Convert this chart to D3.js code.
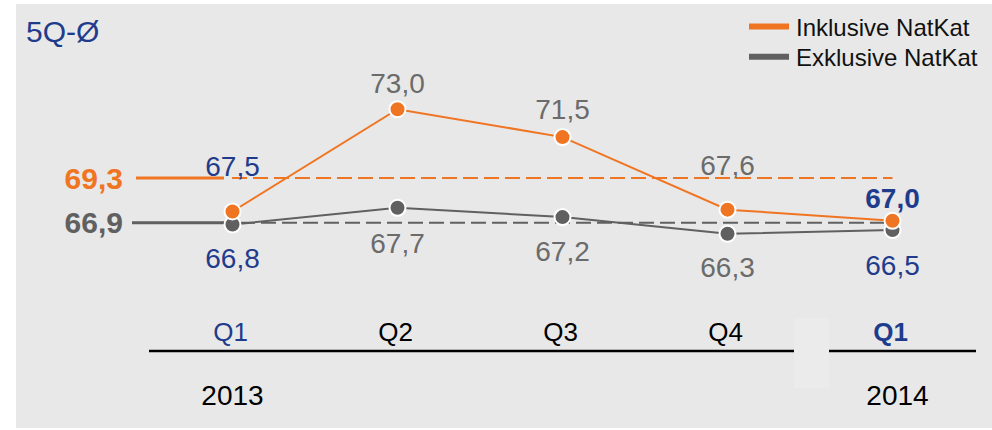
<!DOCTYPE html>
<html>
<head>
<meta charset="utf-8">
<script src="https://cdn.jsdelivr.net/npm/d3@7"></script>
<style>
  html, body { margin: 0; padding: 0; background: #ffffff; }
  svg { display: block; }
  text { font-family: "Liberation Sans", Arial, Helvetica, sans-serif; }
</style>
</head>
<body>
<svg id="chart" width="992" height="430"></svg>
<script>
// Quarterly combined ratio, with and without natural catastrophes
const quarters = ["Q1 2013", "Q2 2013", "Q3 2013", "Q4 2013", "Q1 2014"];
const quarterLabels = ["Q1", "Q2", "Q3", "Q4", "Q1"];
const yearLabels = ["2013", "", "", "", "2014"];
const inklusive = [67.5, 73.0, 71.5, 67.6, 67.0];
const exklusive = [66.8, 67.7, 67.2, 66.3, 66.5];
const avgInklusive = 69.3;
const avgExklusive = 66.9;
const seriesNames = ["Inklusive NatKat", "Exklusive NatKat"];
const title = "5Q-Ø";

const fmt = v => d3.format(".1f")(v).replace(".", ",");

const ORANGE = "#f07522";
const GREY = "#606060";
const LABEL_GREY = "#6b6b6b";
const BLUE = "#1f3c8c";

// baseline offsets of value labels from their marker
const incLabelDy = [-35.4, -16.7, -17.8, -34.5, -12.4];
const excLabelDy = [43, 45.6, 44, 43.2, 45];
const incLabelColor = [BLUE, LABEL_GREY, LABEL_GREY, LABEL_GREY, BLUE];
const excLabelColor = [BLUE, LABEL_GREY, LABEL_GREY, LABEL_GREY, BLUE];
const incLabelWeight = ["normal", "normal", "normal", "normal", "bold"];

const svg = d3.select("#chart");

// panel background
svg.append("rect").attr("x", 16).attr("y", 4).attr("width", 976).attr("height", 424).attr("fill", "#e8e8e8");

const x = d3.scalePoint().domain(quarters).range([232.5, 892.5]);
const y = d3.scaleLinear().domain([66, 73]).range([239.4, 109.2]);

// title
svg.append("text").attr("x", 26).attr("y", 41.5).attr("font-size", 30).attr("fill", BLUE).text(title);

// legend
const legend = svg.append("g");
[[ORANGE, 26.5, 35.7], [GREY, 56.7, 65.7]].forEach(([c, ly, ty], i) => {
  legend.append("line").attr("x1", 749).attr("x2", 789).attr("y1", ly).attr("y2", ly)
    .attr("stroke", c).attr("stroke-width", 6);
  legend.append("text").attr("x", 796).attr("y", ty).attr("font-size", 24).attr("fill", "#111")
    .text(seriesNames[i]);
});

// average lines: solid stub at the left, dashed across the quarters
function avgLine(v, color, x0, stubEnd, label) {
  const yy = y(v);
  svg.append("line").attr("x1", x0).attr("x2", stubEnd).attr("y1", yy).attr("y2", yy)
    .attr("stroke", color).attr("stroke-width", 3);
  svg.append("line").attr("x1", stubEnd + 8).attr("x2", x(quarters[quarters.length - 1]))
    .attr("y1", yy).attr("y2", yy)
    .attr("stroke", color).attr("stroke-width", 2).attr("stroke-dasharray", "15,6");
  svg.append("text").attr("x", 123).attr("y", yy + 10.5).attr("text-anchor", "end")
    .attr("font-size", 30).attr("font-weight", "bold").attr("fill", color).text(label);
}
avgLine(avgInklusive, ORANGE, 136, 224, fmt(avgInklusive));
avgLine(avgExklusive, GREY, 132, 232, fmt(avgExklusive));

// series lines
const line = d3.line().x((d, i) => x(quarters[i])).y(d => y(d));
svg.append("path").datum(exklusive).attr("d", line).attr("fill", "none")
  .attr("stroke", GREY).attr("stroke-width", 2);
svg.append("path").datum(inklusive).attr("d", line).attr("fill", "none")
  .attr("stroke", ORANGE).attr("stroke-width", 2);

// markers (grey below, orange on top)
svg.append("g").selectAll("circle").data(exklusive).join("circle")
  .attr("cx", (d, i) => x(quarters[i])).attr("cy", d => y(d)).attr("r", 8)
  .attr("fill", GREY).attr("stroke", "#fff").attr("stroke-width", 2);
svg.append("g").selectAll("circle").data(inklusive).join("circle")
  .attr("cx", (d, i) => x(quarters[i])).attr("cy", d => y(d)).attr("r", 8)
  .attr("fill", ORANGE).attr("stroke", "#fff").attr("stroke-width", 2);

// value labels
svg.append("g").selectAll("text").data(inklusive).join("text")
  .attr("x", (d, i) => x(quarters[i])).attr("y", (d, i) => y(d) + incLabelDy[i])
  .attr("text-anchor", "middle").attr("font-size", 28)
  .attr("font-weight", (d, i) => incLabelWeight[i])
  .attr("fill", (d, i) => incLabelColor[i]).text(d => fmt(d));
svg.append("g").selectAll("text").data(exklusive).join("text")
  .attr("x", (d, i) => x(quarters[i])).attr("y", (d, i) => y(d) + excLabelDy[i])
  .attr("text-anchor", "middle").attr("font-size", 28)
  .attr("fill", (d, i) => excLabelColor[i]).text(d => fmt(d));

// category axis
svg.append("line").attr("x1", 149).attr("x2", 976).attr("y1", 351).attr("y2", 351)
  .attr("stroke", "#000").attr("stroke-width", 2.6);
svg.append("rect").attr("x", 794).attr("y", 318).attr("width", 35).attr("height", 70).attr("fill", "#ebebeb");

svg.append("g").selectAll("text").data(quarterLabels).join("text")
  .attr("x", (d, i) => x(quarters[i]) - 2).attr("y", 341)
  .attr("text-anchor", "middle").attr("font-size", 26)
  .attr("font-weight", (d, i) => i === 4 ? "bold" : "normal")
  .attr("fill", (d, i) => (i === 0 || i === 4) ? BLUE : "#000").text(d => d);

svg.append("g").selectAll("text").data(yearLabels).join("text")
  .attr("x", (d, i) => x(quarters[i]) + (i === 4 ? 5 : 0)).attr("y", 405)
  .attr("text-anchor", "middle").attr("font-size", 28).attr("fill", "#000").text(d => d);
</script>
</body>
</html>
